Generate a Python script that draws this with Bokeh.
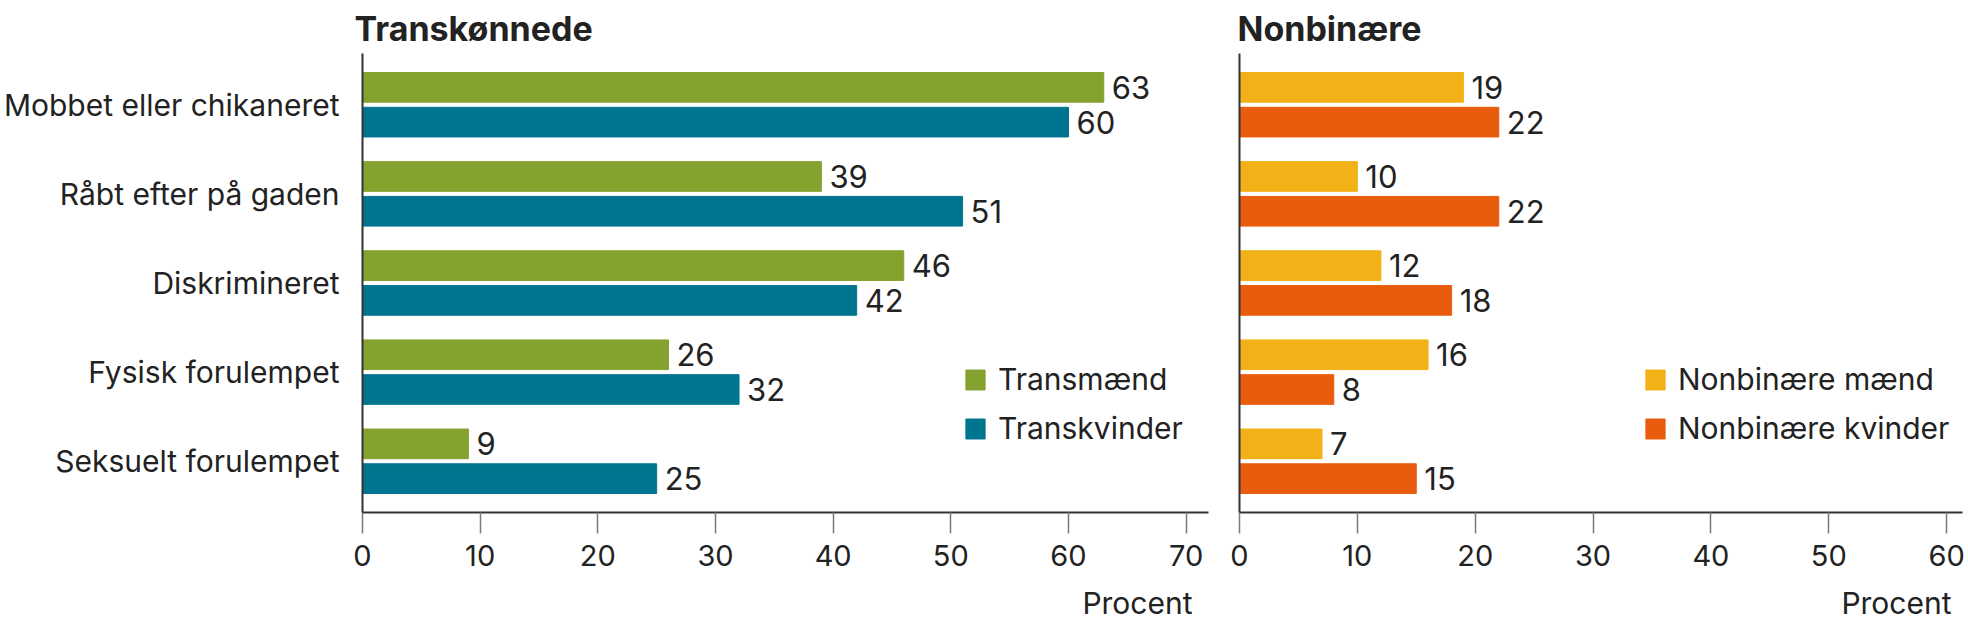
from bokeh.plotting import figure
from bokeh.layouts import row
from bokeh.models import (ColumnDataSource, Range1d, FixedTicker, Legend, LegendItem, Title)
from bokeh.transform import dodge
from bokeh.core.properties import value
from bokeh.embed import file_html
from bokeh.resources import INLINE

categories = ["Mobbet eller chikaneret", "Råbt efter på gaden", "Diskrimineret",
              "Fysisk forulempet", "Seksuelt forulempet"]
transmaend = [63, 39, 46, 26, 9]
transkvinder = [60, 51, 42, 32, 25]
nonbinaere_maend = [19, 10, 12, 16, 7]
nonbinaere_kvinder = [22, 22, 18, 8, 15]
left_ticks = [0, 10, 20, 30, 40, 50, 60, 70]
right_ticks = [0, 10, 20, 30, 40, 50, 60]

GREEN = "#84a22e"
TEAL = "#00758f"
YELLOW = "#f2b116"
ORANGE = "#ea5c0d"
TXT = "#222222"
FONT = "Inter"

idx = list(range(len(categories)))
Y_TOP = -0.575
Y_BOT = len(categories) - 1 + 0.575


def make_panel(title, s1, s2, names, colors, xmax, ticks, width, border_left, border_right,
               show_labels, title_offset, legend_x, procent_offset):
    p = figure(width=width, height=639, x_range=Range1d(0, xmax),
               y_range=Range1d(Y_BOT, Y_TOP),
               output_backend="svg", toolbar_location=None,
               min_border_left=border_left, min_border_right=border_right,
               min_border_top=48, min_border_bottom=127)
    p.outline_line_color = None
    p.xgrid.grid_line_color = None
    p.ygrid.grid_line_color = None
    p.background_fill_color = "white"
    p.border_fill_color = "white"

    src = ColumnDataSource(dict(y=idx, a=s1, b=s2, la=[str(v) for v in s1], lb=[str(v) for v in s2]))
    r1 = p.hbar(y=dodge("y", -0.195, range=p.y_range), right="a", left=0, height=0.333,
                source=src, fill_color=colors[0], line_color=colors[0], line_width=1)
    r2 = p.hbar(y=dodge("y", 0.195, range=p.y_range), right="b", left=0, height=0.333,
                source=src, fill_color=colors[1], line_color=colors[1], line_width=1)
    p.text(x="a", y=dodge("y", -0.195, range=p.y_range), text="la", source=src,
           x_offset=8, text_baseline="middle", text_font=value(FONT),
           text_font_size="31px", text_color=TXT)
    p.text(x="b", y=dodge("y", 0.195, range=p.y_range), text="lb", source=src,
           x_offset=8, text_baseline="middle", text_font=value(FONT),
           text_font_size="31px", text_color=TXT)

    xa = p.xaxis[0]
    xa.ticker = FixedTicker(ticks=ticks)
    xa.minor_tick_line_color = None
    xa.major_tick_out = 21
    xa.major_tick_in = 0
    xa.major_tick_line_color = "#7a7a7a"
    xa.major_tick_line_width = 1.5
    xa.axis_line_color = "#333333"
    xa.axis_line_width = 2
    xa.major_label_text_font = FONT
    xa.major_label_text_font_size = "29px"
    xa.major_label_text_color = TXT
    xa.major_label_standoff = 11

    ya = p.yaxis[0]
    ya.minor_tick_line_color = None
    ya.major_tick_out = 0
    ya.major_tick_in = 0
    ya.axis_line_color = "#333333"
    ya.axis_line_width = 2
    if show_labels:
        ya.ticker = FixedTicker(ticks=idx)
        ya.major_label_overrides = {i: c for i, c in zip(idx, categories)}
        ya.major_label_text_font = FONT
        ya.major_label_text_font_size = "30px"
        ya.major_label_text_color = TXT
        ya.major_label_standoff = 23
    else:
        ya.ticker = FixedTicker(ticks=[])
        ya.major_label_standoff = 0

    t = Title(text=title, align="left", text_font=FONT, text_font_size="34px",
              text_font_style="bold", text_color=TXT, standoff=10, offset=title_offset)
    p.add_layout(t, "above")

    pt = Title(text="Procent", align="right", text_font=FONT, text_font_size="30px",
               text_font_style="normal", text_color=TXT, standoff=28, offset=procent_offset)
    p.add_layout(pt, "below")

    legend = Legend(items=[LegendItem(label=names[0], renderers=[r1]),
                           LegendItem(label=names[1], renderers=[r2])],
                    location=(legend_x, 66), orientation="vertical",
                    glyph_width=24, glyph_height=25, label_height=25,
                    label_standoff=11, spacing=13, padding=0, margin=0,
                    border_line_color=None, background_fill_alpha=0,
                    label_text_font=FONT, label_text_font_size="30px",
                    label_text_color=TXT)
    p.add_layout(legend, "center")
    return p


p1 = make_panel("Transkønnede", transmaend, transkvinder, ["Transmænd", "Transkvinder"],
                [GREEN, TEAL], 71.9, left_ticks, 1215, 360, 7, True, -8, 601, 16)
p2 = make_panel("Nonbinære", nonbinaere_maend, nonbinaere_kvinder,
                ["Nonbinære mænd", "Nonbinære kvinder"],
                [YELLOW, ORANGE], 61.35, right_ticks, 753, 24, 6, False, -2, 404, 11)

layout = row(p1, p2)
open("out.html", "w").write(file_html(layout, INLINE))
